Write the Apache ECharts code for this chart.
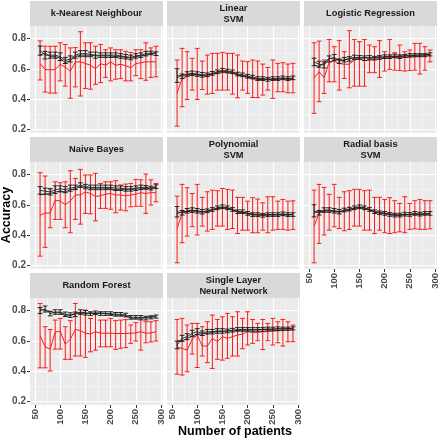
<!DOCTYPE html>
<html><head><meta charset="utf-8">
<script src="https://cdn.jsdelivr.net/npm/echarts@6/dist/echarts.min.js"></script>
<style>html,body{margin:0;padding:0;background:#fff}#c{width:440px;height:439px}</style>
</head><body><div id="c"></div>
<script>
// ---------- data ----------
const patients = [60,70,80,90,100,110,120,130,140,150,160,170,180,190,200,210,220,230,240,250,260,270,280,290];
const xTicks = [50,100,150,200,250,300];
const xMinor = [75,125,175,225,275];
const yTicks = [0.2,0.4,0.6,0.8];
const yMinor = [0.3,0.5,0.7];
const panelTitles = ['k-Nearest Neighbour','Linear\nSVM','Logistic Regression','Naive Bayes','Polynomial\nSVM','Radial basis\nSVM','Random Forest','Single Layer\nNeural Network'];

const knnRed    = [0.634,0.595,0.593,0.595,0.63,0.611,0.584,0.645,0.646,0.635,0.623,0.60,0.634,0.623,0.645,0.623,0.63,0.62,0.607,0.634,0.64,0.646,0.646,0.646];
const knnRedLo  = [0.526,0.446,0.439,0.439,0.52,0.485,0.405,0.48,0.42,0.469,0.465,0.497,0.508,0.543,0.52,0.531,0.535,0.52,0.52,0.554,0.535,0.524,0.543,0.547];
const knnRedHi  = [0.784,0.749,0.749,0.749,0.772,0.761,0.738,0.74,0.845,0.772,0.772,0.749,0.761,0.726,0.738,0.726,0.726,0.715,0.708,0.726,0.726,0.772,0.738,0.749];
const knnBlackA = [0.72,0.69,0.69,0.69,0.68,0.655,0.665,0.69,0.70,0.70,0.695,0.69,0.69,0.69,0.69,0.69,0.685,0.68,0.675,0.685,0.69,0.70,0.705,0.70];
const knnBlackB = [0.69,0.705,0.68,0.68,0.67,0.64,0.655,0.68,0.69,0.69,0.69,0.685,0.685,0.685,0.685,0.68,0.68,0.675,0.67,0.68,0.685,0.69,0.70,0.705];
const knnBlackErr = [0.03,0.025,0.02,0.02,0.025,0.02,0.02,0.02,0.02,0.02,0.015,0.02,0.015,0.015,0.015,0.015,0.015,0.015,0.015,0.015,0.015,0.015,0.012,0.012];

const linRed    = [0.44,0.535,0.55,0.56,0.56,0.555,0.55,0.565,0.57,0.575,0.575,0.57,0.56,0.55,0.545,0.535,0.53,0.53,0.53,0.53,0.53,0.535,0.53,0.53];
const linRedLo  = [0.220,0.349,0.397,0.459,0.397,0.463,0.432,0.437,0.459,0.459,0.459,0.432,0.408,0.459,0.437,0.410,0.410,0.426,0.459,0.404,0.448,0.448,0.441,0.441];
const linRedHi  = [0.658,0.735,0.713,0.669,0.735,0.651,0.691,0.702,0.702,0.708,0.702,0.702,0.691,0.651,0.647,0.658,0.651,0.631,0.609,0.658,0.636,0.640,0.631,0.636];
const linBlackA = [0.555,0.55,0.565,0.57,0.565,0.56,0.56,0.57,0.58,0.59,0.585,0.58,0.565,0.56,0.55,0.545,0.535,0.535,0.53,0.535,0.535,0.54,0.535,0.54];
const linBlackB = [0.54,0.56,0.56,0.565,0.56,0.555,0.56,0.565,0.575,0.585,0.58,0.575,0.56,0.555,0.545,0.54,0.53,0.53,0.53,0.53,0.53,0.535,0.53,0.535];
const linBlackErr = [0.045,0.015,0.015,0.015,0.015,0.015,0.012,0.012,0.012,0.012,0.012,0.012,0.012,0.012,0.012,0.012,0.012,0.012,0.012,0.012,0.012,0.012,0.012,0.012];

const logRed    = [0.54,0.58,0.54,0.645,0.65,0.635,0.63,0.63,0.66,0.665,0.655,0.655,0.665,0.665,0.67,0.675,0.675,0.675,0.675,0.675,0.68,0.68,0.685,0.69];
const logRedLo  = [0.305,0.382,0.437,0.514,0.514,0.459,0.536,0.474,0.485,0.485,0.485,0.574,0.574,0.543,0.585,0.596,0.591,0.589,0.585,0.589,0.591,0.565,0.591,0.646];
const logRedHi  = [0.772,0.783,0.658,0.794,0.746,0.786,0.713,0.852,0.794,0.779,0.794,0.757,0.746,0.786,0.713,0.794,0.706,0.757,0.713,0.724,0.768,0.768,0.746,0.724];
const logBlackA = [0.645,0.63,0.625,0.665,0.675,0.65,0.66,0.665,0.675,0.675,0.67,0.675,0.67,0.675,0.68,0.68,0.685,0.68,0.685,0.69,0.69,0.69,0.69,0.695];
const logBlackB = [0.625,0.615,0.64,0.67,0.665,0.66,0.655,0.67,0.67,0.67,0.675,0.67,0.675,0.68,0.675,0.685,0.68,0.685,0.685,0.685,0.69,0.69,0.695,0.695];
const logBlackErr = [0.025,0.02,0.02,0.02,0.02,0.015,0.015,0.015,0.015,0.012,0.015,0.012,0.012,0.012,0.012,0.012,0.012,0.012,0.01,0.01,0.01,0.01,0.01,0.01];

const nbRed    = [0.53,0.545,0.545,0.63,0.625,0.60,0.625,0.665,0.665,0.685,0.675,0.655,0.66,0.67,0.675,0.665,0.665,0.66,0.665,0.67,0.68,0.675,0.68,0.68];
const nbRedLo  = [0.26,0.318,0.448,0.503,0.503,0.448,0.415,0.503,0.472,0.543,0.54,0.494,0.576,0.576,0.57,0.547,0.565,0.56,0.587,0.59,0.59,0.543,0.598,0.62];
const nbRedHi  = [0.812,0.79,0.708,0.752,0.746,0.752,0.825,0.774,0.834,0.797,0.797,0.808,0.741,0.752,0.752,0.759,0.731,0.737,0.741,0.768,0.765,0.803,0.765,0.741];
const nbBlackA = [0.695,0.69,0.685,0.70,0.705,0.70,0.71,0.715,0.73,0.72,0.715,0.715,0.715,0.715,0.715,0.71,0.71,0.705,0.705,0.71,0.715,0.715,0.71,0.72];
const nbBlackB = [0.665,0.67,0.675,0.685,0.69,0.685,0.70,0.705,0.72,0.715,0.71,0.71,0.71,0.71,0.705,0.70,0.70,0.70,0.70,0.705,0.705,0.71,0.705,0.715];
const nbBlackErr = [0.025,0.02,0.02,0.025,0.02,0.02,0.02,0.015,0.015,0.015,0.015,0.015,0.015,0.015,0.015,0.015,0.015,0.015,0.015,0.015,0.015,0.012,0.012,0.012];

const polyRed    = [0.443,0.543,0.555,0.56,0.56,0.555,0.555,0.565,0.575,0.58,0.58,0.57,0.555,0.55,0.545,0.54,0.535,0.535,0.535,0.535,0.535,0.535,0.535,0.535];
const polyRedLo  = [0.216,0.349,0.393,0.455,0.40,0.459,0.426,0.437,0.459,0.459,0.437,0.443,0.41,0.432,0.432,0.415,0.415,0.432,0.415,0.432,0.437,0.437,0.432,0.437];
const polyRedHi  = [0.657,0.735,0.713,0.675,0.735,0.649,0.686,0.697,0.693,0.708,0.702,0.697,0.649,0.649,0.624,0.647,0.638,0.613,0.653,0.653,0.624,0.635,0.624,0.626];
const polyBlackA = [0.554,0.547,0.56,0.565,0.56,0.554,0.56,0.569,0.58,0.587,0.58,0.569,0.554,0.554,0.543,0.535,0.535,0.53,0.535,0.535,0.535,0.54,0.535,0.535];
const polyBlackB = [0.54,0.555,0.555,0.56,0.555,0.55,0.555,0.565,0.575,0.582,0.575,0.565,0.55,0.55,0.54,0.532,0.532,0.53,0.532,0.532,0.532,0.535,0.532,0.535];
const polyBlackErr = [0.035,0.015,0.015,0.015,0.015,0.015,0.012,0.012,0.012,0.012,0.012,0.012,0.012,0.012,0.012,0.012,0.012,0.012,0.012,0.012,0.012,0.012,0.012,0.012];

const rbfRed    = [0.459,0.545,0.555,0.56,0.56,0.555,0.56,0.565,0.575,0.58,0.578,0.57,0.555,0.55,0.545,0.54,0.535,0.533,0.535,0.535,0.535,0.535,0.537,0.537];
const rbfRedLo  = [0.216,0.344,0.40,0.432,0.454,0.443,0.428,0.437,0.459,0.459,0.432,0.432,0.41,0.432,0.415,0.41,0.415,0.421,0.415,0.437,0.441,0.437,0.437,0.441];
const rbfRedHi  = [0.697,0.735,0.715,0.669,0.735,0.649,0.686,0.693,0.702,0.702,0.693,0.697,0.649,0.649,0.635,0.647,0.627,0.609,0.653,0.609,0.627,0.635,0.627,0.627];
const rbfBlackA = [0.56,0.547,0.565,0.565,0.56,0.554,0.565,0.571,0.58,0.587,0.58,0.569,0.554,0.547,0.543,0.536,0.532,0.532,0.538,0.536,0.543,0.538,0.543,0.543];
const rbfBlackB = [0.545,0.555,0.56,0.56,0.555,0.55,0.56,0.567,0.576,0.583,0.576,0.565,0.55,0.545,0.54,0.534,0.53,0.53,0.535,0.534,0.54,0.535,0.54,0.54];
const rbfBlackErr = [0.04,0.015,0.015,0.015,0.015,0.015,0.012,0.012,0.012,0.012,0.012,0.012,0.012,0.012,0.012,0.012,0.012,0.012,0.012,0.012,0.012,0.012,0.012,0.012];

const rfRed    = [0.635,0.56,0.545,0.657,0.664,0.578,0.61,0.675,0.667,0.65,0.645,0.66,0.65,0.65,0.65,0.648,0.648,0.648,0.65,0.652,0.66,0.65,0.652,0.66];
const rfRedLo  = [0.421,0.421,0.40,0.545,0.545,0.477,0.477,0.499,0.499,0.49,0.527,0.538,0.56,0.56,0.56,0.543,0.55,0.555,0.583,0.598,0.538,0.587,0.592,0.598];
const rfRedHi  = [0.847,0.693,0.675,0.737,0.748,0.693,0.733,0.847,0.781,0.803,0.748,0.781,0.737,0.737,0.748,0.733,0.737,0.74,0.704,0.72,0.737,0.726,0.726,0.733];
const rfBlackA = [0.80,0.81,0.78,0.79,0.79,0.775,0.77,0.775,0.79,0.785,0.78,0.785,0.78,0.78,0.78,0.775,0.775,0.77,0.755,0.755,0.755,0.75,0.755,0.76];
const rfBlackB = [0.81,0.80,0.795,0.785,0.785,0.765,0.765,0.785,0.785,0.78,0.785,0.78,0.785,0.78,0.775,0.77,0.77,0.765,0.75,0.75,0.75,0.755,0.76,0.765];
const rfBlackErr = [0.02,0.02,0.015,0.015,0.015,0.015,0.015,0.015,0.015,0.015,0.012,0.012,0.012,0.012,0.012,0.012,0.012,0.012,0.012,0.012,0.012,0.012,0.01,0.01];

const nnRed    = [0.556,0.55,0.538,0.61,0.638,0.565,0.565,0.616,0.594,0.627,0.616,0.627,0.638,0.644,0.66,0.655,0.655,0.66,0.66,0.665,0.665,0.668,0.67,0.672];
const nnRedLo  = [0.379,0.373,0.395,0.512,0.423,0.499,0.455,0.417,0.477,0.472,0.484,0.499,0.499,0.547,0.572,0.583,0.60,0.542,0.60,0.572,0.587,0.565,0.594,0.594];
const nnRedHi  = [0.741,0.748,0.704,0.715,0.715,0.693,0.726,0.770,0.741,0.759,0.781,0.759,0.792,0.748,0.792,0.741,0.715,0.741,0.715,0.748,0.726,0.741,0.726,0.704];
const nnBlackA = [0.572,0.616,0.627,0.649,0.66,0.65,0.66,0.66,0.665,0.665,0.665,0.67,0.675,0.675,0.675,0.675,0.675,0.675,0.678,0.678,0.68,0.68,0.68,0.682];
const nnBlackB = [0.60,0.60,0.615,0.63,0.645,0.645,0.65,0.655,0.66,0.66,0.665,0.665,0.668,0.67,0.67,0.672,0.672,0.675,0.675,0.675,0.678,0.678,0.68,0.682];
const nnBlackErr = [0.025,0.02,0.02,0.02,0.02,0.015,0.015,0.015,0.015,0.015,0.012,0.012,0.012,0.012,0.012,0.012,0.012,0.012,0.012,0.012,0.012,0.01,0.01,0.01];

// ---------- layout ----------
const models = [
  [knnRed,knnRedLo,knnRedHi,knnBlackA,knnBlackB,knnBlackErr],
  [linRed,linRedLo,linRedHi,linBlackA,linBlackB,linBlackErr],
  [logRed,logRedLo,logRedHi,logBlackA,logBlackB,logBlackErr],
  [nbRed,nbRedLo,nbRedHi,nbBlackA,nbBlackB,nbBlackErr],
  [polyRed,polyRedLo,polyRedHi,polyBlackA,polyBlackB,polyBlackErr],
  [rbfRed,rbfRedLo,rbfRedHi,rbfBlackA,rbfBlackB,rbfBlackErr],
  [rfRed,rfRedLo,rfRedHi,rfBlackA,rfBlackB,rfBlackErr],
  [nnRed,nnRedLo,nnRedHi,nnBlackA,nnBlackB,nnBlackErr]
];
const colLeft = [30,167,304], rowTop = [26,162,298];
const PW = 133, PH = 107, STRIP = 25;
const XMIN = 40, XMAX = 304, YMIN = 0.175, YMAX = 0.883;
const bottomPanels = [5,6,7];
const FONT = 'Liberation Sans, Arial, sans-serif';
const RED = '#ff1a1a', BLK = '#1f1f1f';

function errRender(color, cap){
  return function(params, api){
    const x = api.value(0), lo = api.value(1), hi = api.value(2);
    const a = api.coord([x, lo]), b = api.coord([x, hi]);
    const st = {stroke: color, lineWidth: 1, fill: null};
    return {type:'group', children:[
      {type:'line', shape:{x1:a[0],y1:a[1],x2:b[0],y2:b[1]}, style:st},
      {type:'line', shape:{x1:a[0]-cap,y1:a[1],x2:a[0]+cap,y2:a[1]}, style:st},
      {type:'line', shape:{x1:b[0]-cap,y1:b[1],x2:b[0]+cap,y2:b[1]}, style:st}
    ]};
  };
}

const grid = [], xAxis = [], yAxis = [], series = [], graphic = [];
models.forEach((m, i) => {
  const r = Math.floor(i/3), c = i%3;
  const left = colLeft[c], top = rowTop[r];
  grid.push({left:left, top:top, width:PW, height:PH, backgroundColor:'#ebebeb', show:true, borderWidth:0});
  const showX = bottomPanels.includes(i), showY = c===0;
  xAxis.push({type:'value', gridIndex:i, min:XMIN, max:XMAX, position:'bottom',
    axisLine:{show:false},
    axisTick:{show:showX, customValues:xTicks, length:3, lineStyle:{color:'#333', width:1}},
    axisLabel:{show:showX, customValues:xTicks, rotate:90, margin:4, color:'#4d4d4d', fontSize:9.5, fontWeight:'bold', fontFamily:FONT},
    splitLine:{show:true, lineStyle:{color:'#ffffff', width:1}}});
  xAxis.push({type:'value', gridIndex:i, min:XMIN, max:XMAX, position:'top',
    axisLine:{show:false}, axisTick:{show:false, customValues:xMinor}, axisLabel:{show:false, customValues:xMinor},
    splitLine:{show:true, lineStyle:{color:'#fafafa', width:0.5}}});
  yAxis.push({type:'value', gridIndex:i, min:YMIN, max:YMAX, position:'left',
    axisLine:{show:false},
    axisTick:{show:showY, customValues:yTicks, length:3, lineStyle:{color:'#333', width:1}},
    axisLabel:{show:showY, customValues:yTicks, margin:4, color:'#4d4d4d', fontSize:10, fontWeight:'bold', fontFamily:FONT, formatter:v=>v.toFixed(1)},
    splitLine:{show:true, lineStyle:{color:'#ffffff', width:1}}});
  yAxis.push({type:'value', gridIndex:i, min:YMIN, max:YMAX, position:'right',
    axisLine:{show:false}, axisTick:{show:false, customValues:yMinor}, axisLabel:{show:false, customValues:yMinor},
    splitLine:{show:true, lineStyle:{color:'#fafafa', width:0.5}}});
  const xi = 2*i, yi = 2*i;
  const [red, lo, hi, ba, bb, be] = m;
  series.push({type:'line', xAxisIndex:xi, yAxisIndex:yi, data:patients.map((p,k)=>[p,red[k]]), showSymbol:false, symbol:'none', lineStyle:{color:RED, width:1}, z:2, animation:false});
  series.push({type:'custom', xAxisIndex:xi, yAxisIndex:yi, data:patients.map((p,k)=>[p,lo[k],hi[k]]), encode:{x:0,y:[1,2]}, renderItem:errRender(RED,2.4), z:3, animation:false});
  series.push({type:'line', xAxisIndex:xi, yAxisIndex:yi, data:patients.map((p,k)=>[p,bb[k]]), showSymbol:false, symbol:'none', lineStyle:{color:BLK, width:0.9}, z:4, animation:false});
  series.push({type:'line', xAxisIndex:xi, yAxisIndex:yi, data:patients.map((p,k)=>[p,ba[k]]), showSymbol:false, symbol:'none', lineStyle:{color:BLK, width:0.9}, z:4, animation:false});
  series.push({type:'custom', xAxisIndex:xi, yAxisIndex:yi, data:patients.map((p,k)=>[p,ba[k]-be[k],ba[k]+be[k]]), encode:{x:0,y:[1,2]}, renderItem:errRender(BLK,2.4), z:5, animation:false});
  graphic.push({type:'rect', left:left, top:top-STRIP, shape:{width:PW, height:STRIP}, style:{fill:'#d9d9d9'}, z:0});
  graphic.push({type:'text', x:left+PW/2, y:top-STRIP/2, style:{text:panelTitles[i], fill:'#1a1a1a', font:'bold 9.3px '+FONT, align:'center', verticalAlign:'middle', lineHeight:11}, z:1});
});
graphic.push({type:'text', x:235, y:432, style:{text:'Number of patients', fill:'#000', font:'bold 12.5px '+FONT, align:'center', verticalAlign:'middle'}});
graphic.push({type:'text', x:7, y:215, rotation:Math.PI/2, style:{text:'Accuracy', fill:'#000', font:'bold 12.5px '+FONT, align:'center', verticalAlign:'middle'}});

const chart = echarts.init(document.getElementById('c'), null, {renderer:'canvas'});
chart.setOption({animation:false, backgroundColor:'#ffffff', grid, xAxis, yAxis, series, graphic});
</script></body></html>
